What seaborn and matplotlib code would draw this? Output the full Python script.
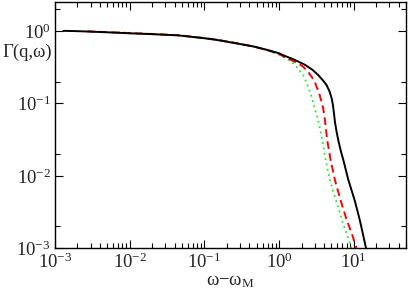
import numpy as np
import pandas as pd
import matplotlib
matplotlib.use("Agg")
import matplotlib.pyplot as plt
import seaborn as sns
from matplotlib.ticker import LogLocator, FixedLocator, NullFormatter, FuncFormatter

# ---- data ----
black_x = [0.0013, 0.002, 0.003, 0.005, 0.01, 0.02, 0.045, 0.1, 0.146, 0.25, 0.45, 0.7,
           1.0, 1.2, 1.6, 2.22, 2.8, 3.35, 3.9, 4.33, 4.75, 5.06, 5.25, 5.4, 5.6, 5.9,
           6.2, 6.7, 7.25, 8.4, 10.4, 12.1, 14.6]
black_y = [1.0, 0.99, 0.975, 0.955, 0.925, 0.9, 0.865, 0.79, 0.75, 0.68, 0.61, 0.545,
           0.49, 0.45, 0.4, 0.34, 0.29, 0.245, 0.205, 0.178, 0.145, 0.117, 0.095, 0.076, 0.055, 0.04,
           0.031, 0.022, 0.0165, 0.009, 0.0044, 0.0024, 0.001]

red_x = [0.0027, 0.005, 0.01, 0.02, 0.045, 0.1, 0.146, 0.25, 0.45, 0.7, 1.0, 1.2, 1.5,
         1.8, 2.1, 2.45, 2.75, 3.0, 3.25, 3.5, 3.7, 3.9, 4.1, 4.41, 4.9, 5.6, 6.66, 8.0,
         9.4, 10.9]
red_y = [0.985, 0.96, 0.93, 0.905, 0.87, 0.795, 0.755, 0.685, 0.61, 0.54, 0.48, 0.43, 0.39,
         0.355, 0.32, 0.27, 0.23, 0.198, 0.16, 0.13, 0.105, 0.085, 0.06, 0.031, 0.0165, 0.0087,
         0.0046, 0.0025, 0.0016, 0.001]

green_x = [0.007, 0.01, 0.02, 0.045, 0.1, 0.146, 0.25, 0.45, 0.7, 1.0, 1.3, 1.63, 1.85,
           2.1, 2.35, 2.6, 2.8, 3.0, 3.2, 3.35, 3.5, 3.79, 4.2, 4.8, 5.78, 6.9, 8.0, 9.3]
green_y = [0.955, 0.94, 0.91, 0.87, 0.8, 0.76, 0.69, 0.61, 0.535, 0.47, 0.41, 0.34, 0.29,
           0.245, 0.19, 0.144, 0.112, 0.085, 0.068, 0.057, 0.046, 0.031, 0.0165, 0.0087,
           0.0046, 0.0025, 0.0016, 0.001]

x_label = "ω−ω$_\\mathregular{M}$"
y_label = "Γ(q,ω)"

sns.set_style("ticks")
plt.rcParams['font.family'] = ['Liberation Serif', 'DejaVu Serif']
plt.rcParams['mathtext.fontset'] = 'custom'
plt.rcParams['mathtext.rm'] = 'Liberation Serif'
plt.rcParams['mathtext.it'] = 'Liberation Serif:italic'
plt.rcParams['mathtext.bf'] = 'Liberation Serif:bold'

fig = plt.figure(figsize=(4.09, 2.92), dpi=100)
ax = fig.add_axes([55/409, 1 - 248.3/292, (406-55)/409, (248.3-2)/292])

df_b = pd.DataFrame({"x": black_x, "y": black_y})
df_r = pd.DataFrame({"x": red_x, "y": red_y})
df_g = pd.DataFrame({"x": green_x, "y": green_y})

ax.set_xscale("log")
ax.set_yscale("log")
sns.lineplot(data=df_g, x="x", y="y", ax=ax, color="#22ee22", lw=1.3, linestyle=(0, (1, 2)), sort=False)
sns.lineplot(data=df_r, x="x", y="y", ax=ax, color="#ff0000", lw=1.4, linestyle=(0, (4, 2.2)), sort=False)
sns.lineplot(data=df_b, x="x", y="y", ax=ax, color="#000000", lw=1.4, sort=False)

ax.set_xlim(1e-3, 50)
ax.set_ylim(1e-3, 2.5)

ax.xaxis.set_major_locator(FixedLocator([1e-3, 1e-2, 1e-1, 1, 10]))
ax.xaxis.set_minor_locator(LogLocator(base=10, subs=np.arange(2, 10), numticks=20))
ax.yaxis.set_major_locator(FixedLocator([1e-3, 1e-2, 1e-1, 1]))
ax.yaxis.set_minor_locator(FixedLocator([2e-3, 2e-2, 2e-1, 2]))
fmt = FuncFormatter(lambda v, p: "$10^{%d}$" % int(round(np.log10(v))))
ax.xaxis.set_major_formatter(fmt)
ax.yaxis.set_major_formatter(fmt)
ax.xaxis.set_minor_formatter(NullFormatter())
ax.yaxis.set_minor_formatter(NullFormatter())

ax.tick_params(which="both", direction="in", top=True, right=True, width=0.8, color="black")
ax.tick_params(which="major", length=6, labelsize=13.5, pad=3)
ax.tick_params(which="minor", length=3.5)
for s in ax.spines.values():
    s.set_linewidth(1.0)
    s.set_color("black")

ax.set_xlabel(x_label, fontsize=13.5, labelpad=1)
ax.set_ylabel("")
fig.text(2/409, 1 - 52/292, y_label, fontsize=13.5, ha="left", va="center")

fig.savefig("out.png", dpi=100)
